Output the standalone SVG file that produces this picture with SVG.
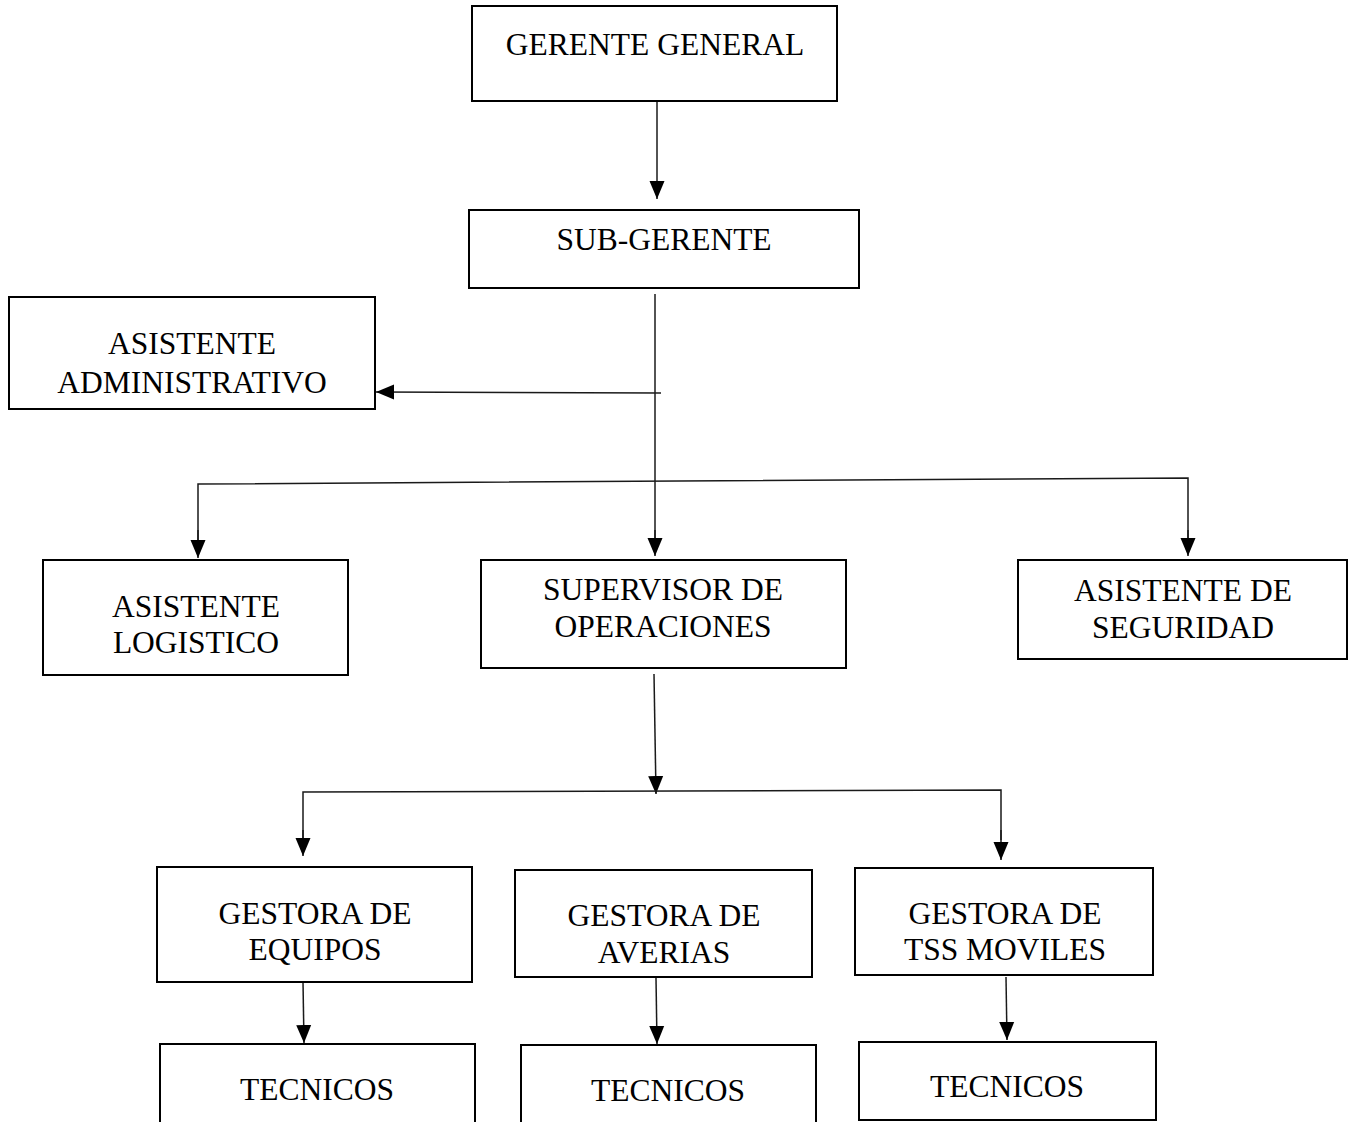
<svg xmlns="http://www.w3.org/2000/svg" width="1353" height="1122" viewBox="0 0 1353 1122">
  <style>
    .box { fill: #ffffff; stroke: #000000; stroke-width: 2; }
    .lbl { font-family: "Liberation Serif", "Times New Roman", serif; font-size: 31.5px; fill: #000000; text-anchor: middle; }
    .wire { fill: none; stroke: #1a1a1a; stroke-width: 1.5; }
    .arr { marker-end: url(#head); }
  </style>
  <defs>
    <marker id="head" markerUnits="userSpaceOnUse" markerWidth="18" markerHeight="16" refX="18" refY="8" orient="auto">
      <path d="M0,0.5 L18,8 L0,15.5 Z" fill="#000000"/>
    </marker>
  </defs>
  <rect width="1353" height="1122" fill="#ffffff"/>

  <!-- connectors -->
  <g id="connectors">
    <line class="wire arr" x1="657" y1="101" x2="657" y2="199"/>
    <line class="wire" x1="655" y1="294" x2="655" y2="540"/>
    <line class="wire arr" x1="655" y1="530" x2="655" y2="556"/>
    <line class="wire arr" x1="661" y1="393" x2="376" y2="392"/>
    <polyline class="wire" points="198,540 198,484 1188,478 1188,540"/>
    <line class="wire arr" x1="198" y1="530" x2="198" y2="558"/>
    <line class="wire arr" x1="1188" y1="530" x2="1188" y2="556"/>
    <line class="wire arr" x1="654" y1="674" x2="656" y2="794"/>
    <polyline class="wire" points="303,840 303,792 1001,790 1001,840"/>
    <line class="wire arr" x1="303" y1="830" x2="303" y2="856"/>
    <line class="wire arr" x1="1001" y1="830" x2="1001" y2="860"/>
    <line class="wire arr" x1="303" y1="982" x2="304" y2="1043"/>
    <line class="wire arr" x1="656" y1="978" x2="657" y2="1044"/>
    <line class="wire arr" x1="1006" y1="977" x2="1007" y2="1040"/>
  </g>

  <g id="gerente-general">
    <rect class="box" x="472" y="6" width="365" height="95"/>
    <text class="lbl" x="655" y="55">GERENTE GENERAL</text>
  </g>
  <g id="sub-gerente">
    <rect class="box" x="469" y="210" width="390" height="78"/>
    <text class="lbl" x="664" y="250">SUB-GERENTE</text>
  </g>
  <g id="asistente-administrativo">
    <rect class="box" x="9" y="297" width="366" height="112"/>
    <text class="lbl" x="192" y="354">ASISTENTE</text>
    <text class="lbl" x="192" y="393">ADMINISTRATIVO</text>
  </g>
  <g id="asistente-logistico">
    <rect class="box" x="43" y="560" width="305" height="115"/>
    <text class="lbl" x="196" y="617">ASISTENTE</text>
    <text class="lbl" x="196" y="653">LOGISTICO</text>
  </g>
  <g id="supervisor-operaciones">
    <rect class="box" x="481" y="560" width="365" height="108"/>
    <text class="lbl" x="663" y="600">SUPERVISOR DE</text>
    <text class="lbl" x="663" y="637">OPERACIONES</text>
  </g>
  <g id="asistente-seguridad">
    <rect class="box" x="1018" y="560" width="329" height="99"/>
    <text class="lbl" x="1183" y="601">ASISTENTE DE</text>
    <text class="lbl" x="1183" y="638">SEGURIDAD</text>
  </g>
  <g id="gestora-equipos">
    <rect class="box" x="157" y="867" width="315" height="115"/>
    <text class="lbl" x="315" y="924">GESTORA DE</text>
    <text class="lbl" x="315" y="960">EQUIPOS</text>
  </g>
  <g id="gestora-averias">
    <rect class="box" x="515" y="870" width="297" height="107"/>
    <text class="lbl" x="664" y="926">GESTORA DE</text>
    <text class="lbl" x="664" y="963">AVERIAS</text>
  </g>
  <g id="gestora-tss-moviles">
    <rect class="box" x="855" y="868" width="298" height="107"/>
    <text class="lbl" x="1005" y="924">GESTORA DE</text>
    <text class="lbl" x="1005" y="960">TSS MOVILES</text>
  </g>
  <g id="tecnicos-equipos">
    <rect class="box" x="160" y="1044" width="315" height="90"/>
    <text class="lbl" x="317" y="1100">TECNICOS</text>
  </g>
  <g id="tecnicos-averias">
    <rect class="box" x="521" y="1045" width="295" height="90"/>
    <text class="lbl" x="668" y="1101">TECNICOS</text>
  </g>
  <g id="tecnicos-tss">
    <rect class="box" x="859" y="1042" width="297" height="78"/>
    <text class="lbl" x="1007" y="1097">TECNICOS</text>
  </g>
</svg>
